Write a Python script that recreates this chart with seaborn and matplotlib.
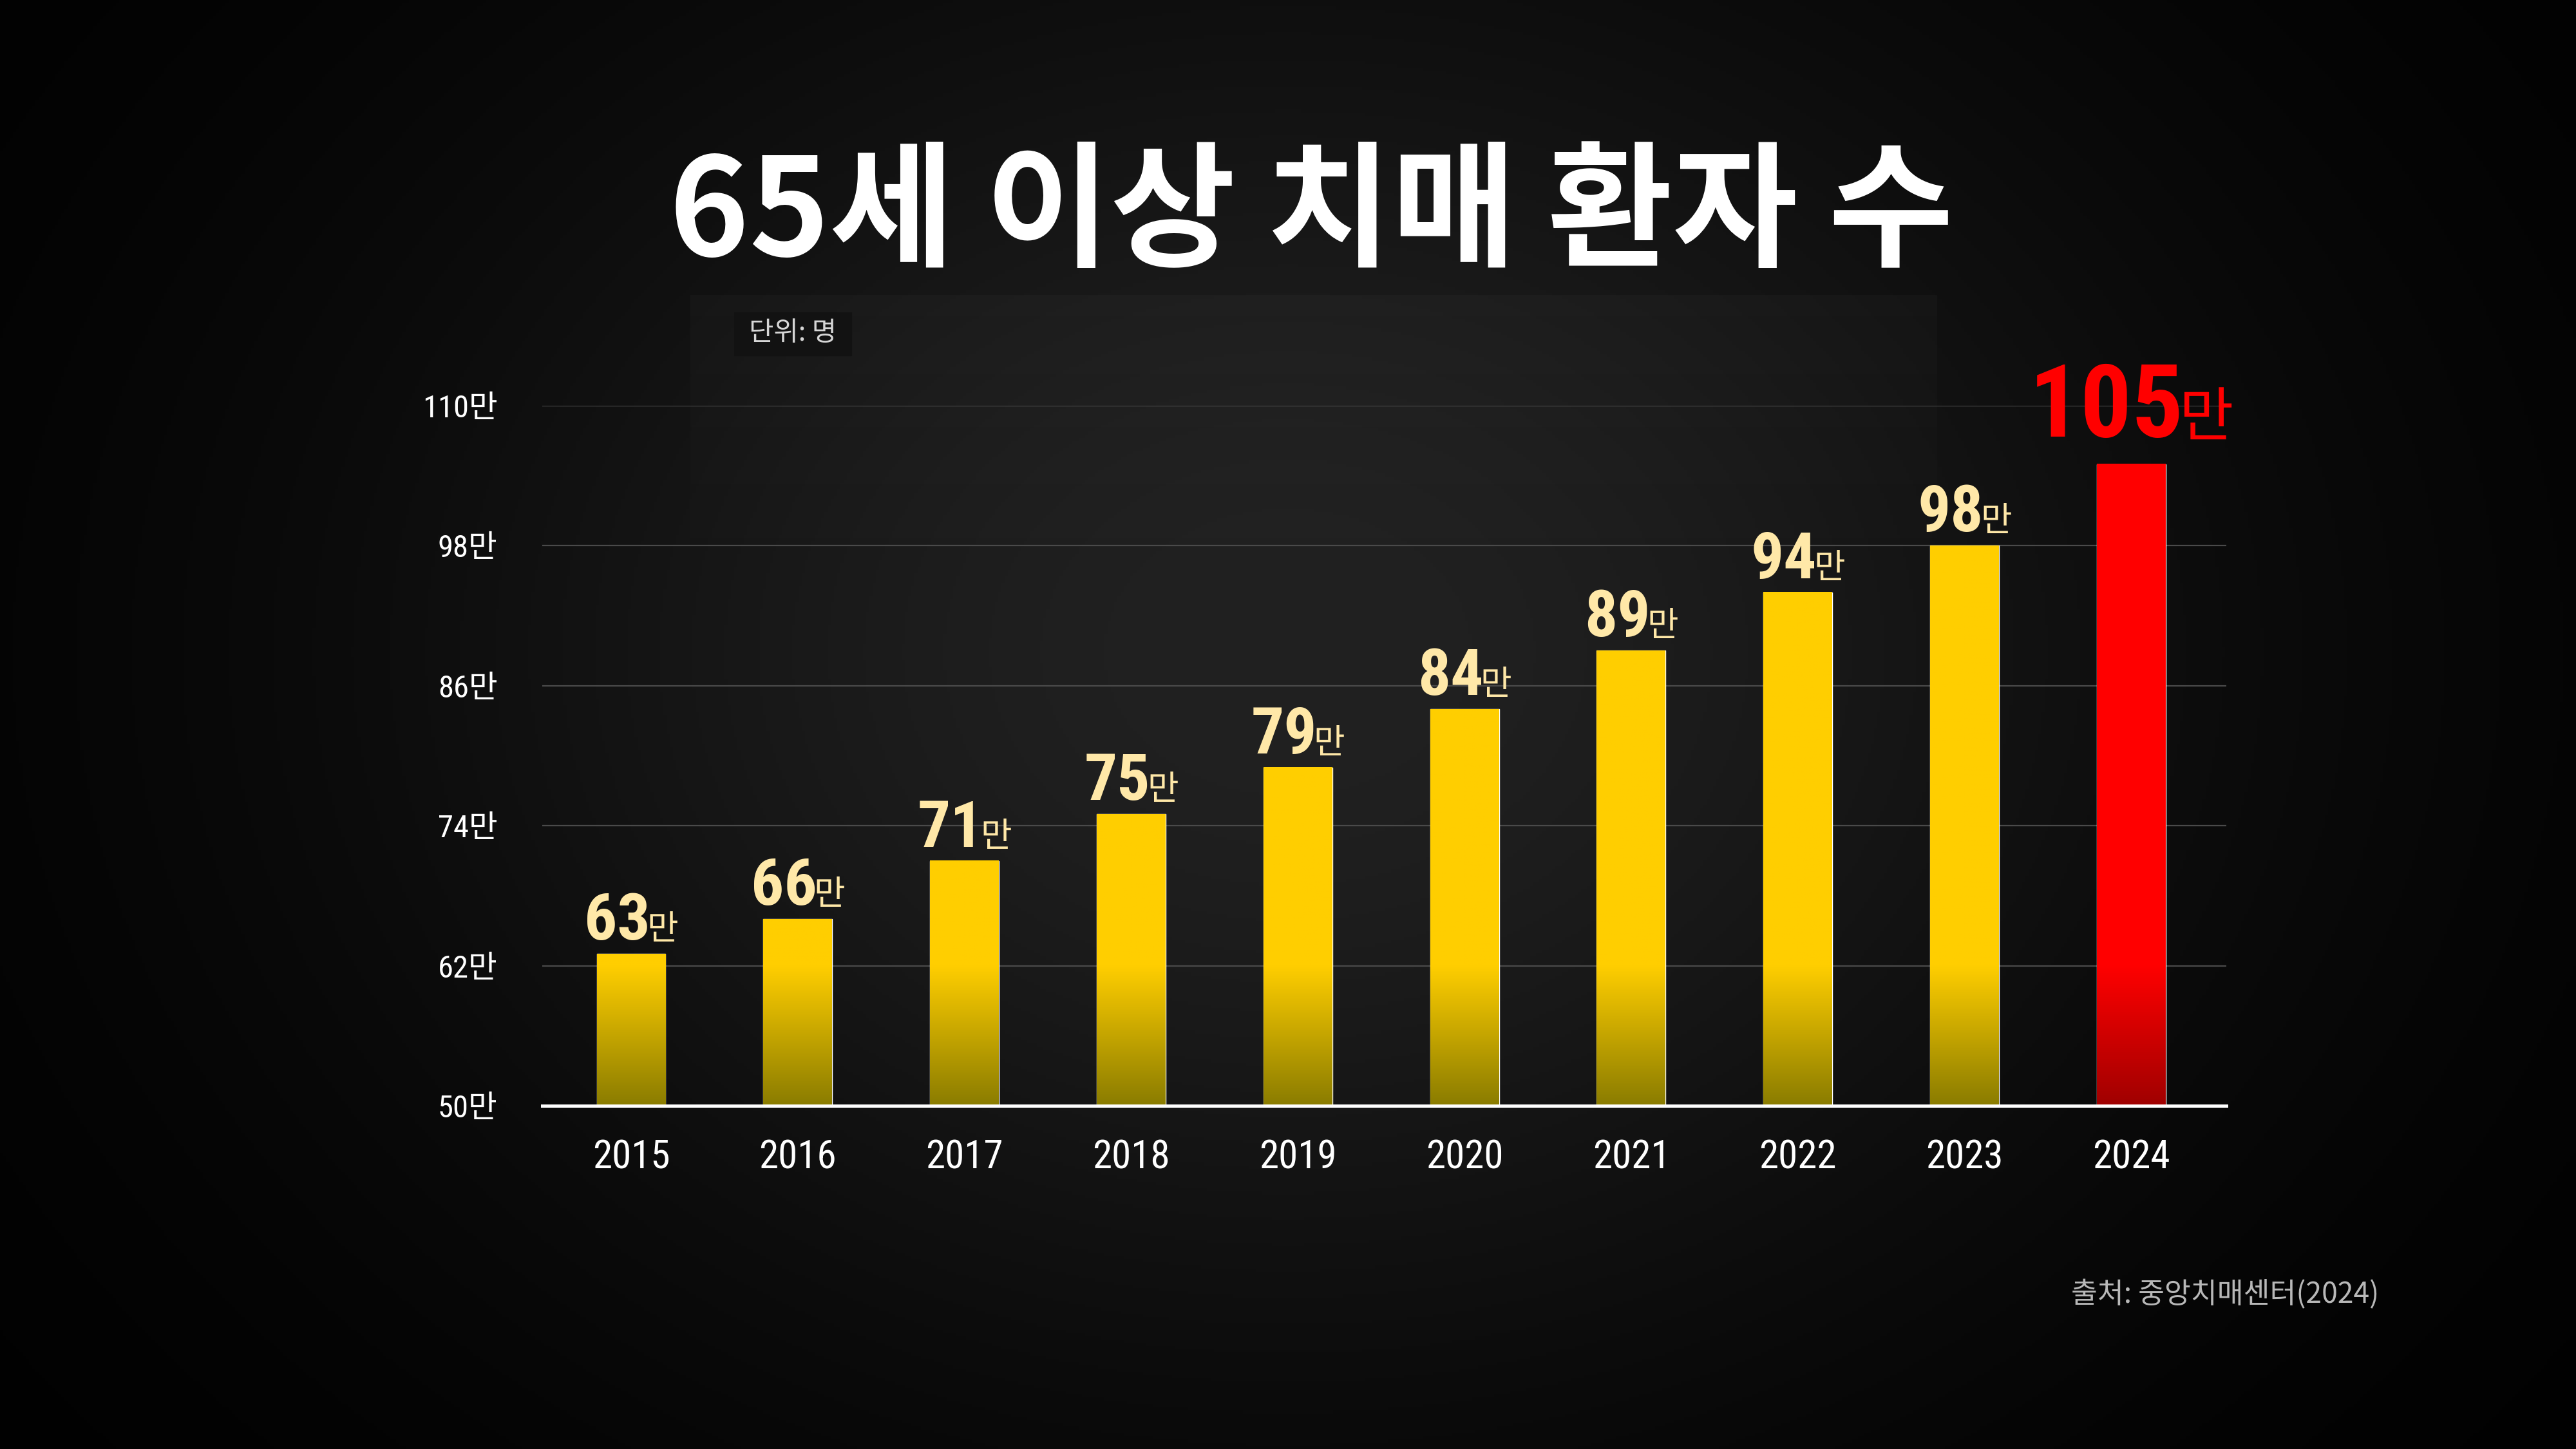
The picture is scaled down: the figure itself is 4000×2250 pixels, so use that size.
import numpy as np
import pandas as pd
import seaborn as sns
import matplotlib.pyplot as plt
from matplotlib import font_manager
from matplotlib.colors import to_rgb
from matplotlib.patches import Rectangle

# data (만 명)
years = ["2015", "2016", "2017", "2018", "2019", "2020", "2021", "2022", "2023", "2024"]
patients = [63, 66, 71, 75, 79, 84, 89, 94, 98, 105]
y_ticks = [50, 62, 74, 86, 98, 110]
y_tick_labels = [f"{t}만" for t in y_ticks]
highlight = "2024"

title = "65세 이상 치매 환자 수"
unit_note = "단위: 명"
source_note = "출처: 중앙치매센터(2024)"

YELLOW, YELLOW_DARK = "#FFCE00", "#8A7C00"
RED, RED_DARK = "#FF0000", "#A00000"
LABEL = "#FFE8A8"

KR = "Noto Sans CJK KR"

# pick a narrow face for the digits if one is installed
fonts = [(f.name, f.stretch) for f in font_manager.fontManager.ttflist]
narrow, stretch = None, "normal"
for name in ["Liberation Sans Narrow", "Roboto Condensed", "Open Sans Condensed"]:
    if any(n == name for n, _ in fonts):
        narrow = name
        break
if narrow is None:
    for name in ["Roboto", "Open Sans", "DejaVu Sans", "Noto Sans"]:
        if any(n == name and s in ("condensed", "semi-condensed", "extra-condensed")
               for n, s in fonts):
            narrow, stretch = name, "condensed"
            break
NUM = [narrow, KR] if narrow else [KR]

sns.set_style("dark")
plt.rcParams["font.family"] = [KR, "DejaVu Sans"]

fig = plt.figure(figsize=(40, 22.5), dpi=100, facecolor="black")

# background: dark vignette with a faint lighter panel behind the chart
bg = fig.add_axes([0, 0, 1, 1], zorder=-10)
yy, xx = np.mgrid[0:1:450j, 0:1:800j]
glow = 0.13 * np.exp(-(((xx - 0.5) / 0.36) ** 2 + ((yy - 0.45) / 0.5) ** 2))
bg.imshow(glow, cmap="gray", vmin=0, vmax=1, extent=[0, 1, 0, 1],
          aspect="auto", origin="upper")
panel = np.ones((100, 1, 4))
panel[:, 0, 3] = np.linspace(0.0, 0.025, 100)
bg.imshow(panel, extent=[0.268, 0.752, 0.55, 0.796], aspect="auto", origin="lower")
bg.add_patch(Rectangle((1140 / 4000, 1 - 552 / 2250), 182 / 4000, 67 / 2250,
                       color="#121212", zorder=3))
bg.set_xlim(0, 1)
bg.set_ylim(0, 1)
bg.axis("off")

ax = fig.add_axes([0.2105, 0.2369, 0.6538, 0.4831])
ax.set_facecolor("none")

df = pd.DataFrame({"year": years, "patients": patients})
palette = {y: (RED if y == highlight else YELLOW) for y in years}
sns.barplot(data=df, x="year", y="patients", hue="year", palette=palette,
            width=0.413, saturation=1, legend=False, ax=ax)

# vertical fade at the foot of each bar
for patch, year, val in zip(ax.patches, years, patients):
    top, bottom = (RED, RED_DARK) if year == highlight else (YELLOW, YELLOW_DARK)
    x0, w = patch.get_x(), patch.get_width()
    ys = np.linspace(50, val, 300)
    t = np.clip((ys - 50) / 12, 0, 1)
    c0, c1 = np.array(to_rgb(bottom)), np.array(to_rgb(top))
    cols = c0 + (c1 - c0) * t[:, None]
    ax.imshow(cols[:, None, :], extent=[x0, x0 + w, 50, val], origin="lower",
              aspect="auto", zorder=patch.get_zorder() + 0.1)

ax.set_xlim(-0.533, 9.571)
ax.set_ylim(50, 110)
ax.set_yticks(y_ticks, y_tick_labels)
ax.set_xlabel("")
ax.set_ylabel("")
ax.grid(axis="y", color="#4a4a4a", lw=1.6)
ax.grid(axis="x", visible=False)
ax.set_axisbelow(True)
for side in ["left", "right", "top"]:
    ax.spines[side].set_visible(False)
ax.spines["bottom"].set_color("white")
ax.spines["bottom"].set_linewidth(3.6)
ax.spines["bottom"].set_zorder(5)

ax.tick_params(axis="y", length=0, pad=50, labelcolor="white", labelsize=35)
ax.tick_params(axis="x", length=0, pad=37, labelcolor="white", labelsize=44)
for lbl in ax.get_yticklabels() + ax.get_xticklabels():
    lbl.set_fontfamily(NUM)
    lbl.set_fontstretch(stretch)

# value labels: bold number + small 만, centred over the bar
fig.canvas.draw()
renderer = fig.canvas.get_renderer()
for i, (year, val) in enumerate(zip(years, patients)):
    big = year == highlight
    color = RED if big else LABEL
    num = ax.annotate(str(val), (i, val), xytext=(0, 0), textcoords="offset pixels",
                      fontsize=114 if big else 73, fontweight="bold", family=NUM,
                      fontstretch=stretch, color=color, ha="left", va="baseline",
                      annotation_clip=False)
    man = ax.annotate("만", (i, val), xytext=(0, 0), textcoords="offset pixels",
                      fontsize=66 if big else 38, family=[KR], color=color,
                      ha="left", va="baseline", annotation_clip=False)
    w1 = num.get_window_extent(renderer).width
    w2 = man.get_window_extent(renderer).width
    gap = -8 if big else -5
    total = w1 + gap + w2
    dy = 43 if big else 22
    num.xyann = (-total / 2, dy)
    man.xyann = (-total / 2 + w1 + gap, dy)

fig.text(0.509, 0.851, title, ha="center", va="center", fontsize=152,
         fontweight="black", color="white")
fig.text(1231 / 4000, 1 - 518 / 2250, unit_note, ha="center", va="center",
         fontsize=30, color="#d6d6d6")
fig.text(3694 / 4000, 1 - 2010 / 2250, source_note, ha="right", va="center",
         fontsize=32, color="#b8b8b8")

fig.savefig("out.png", dpi=100, facecolor="black")
